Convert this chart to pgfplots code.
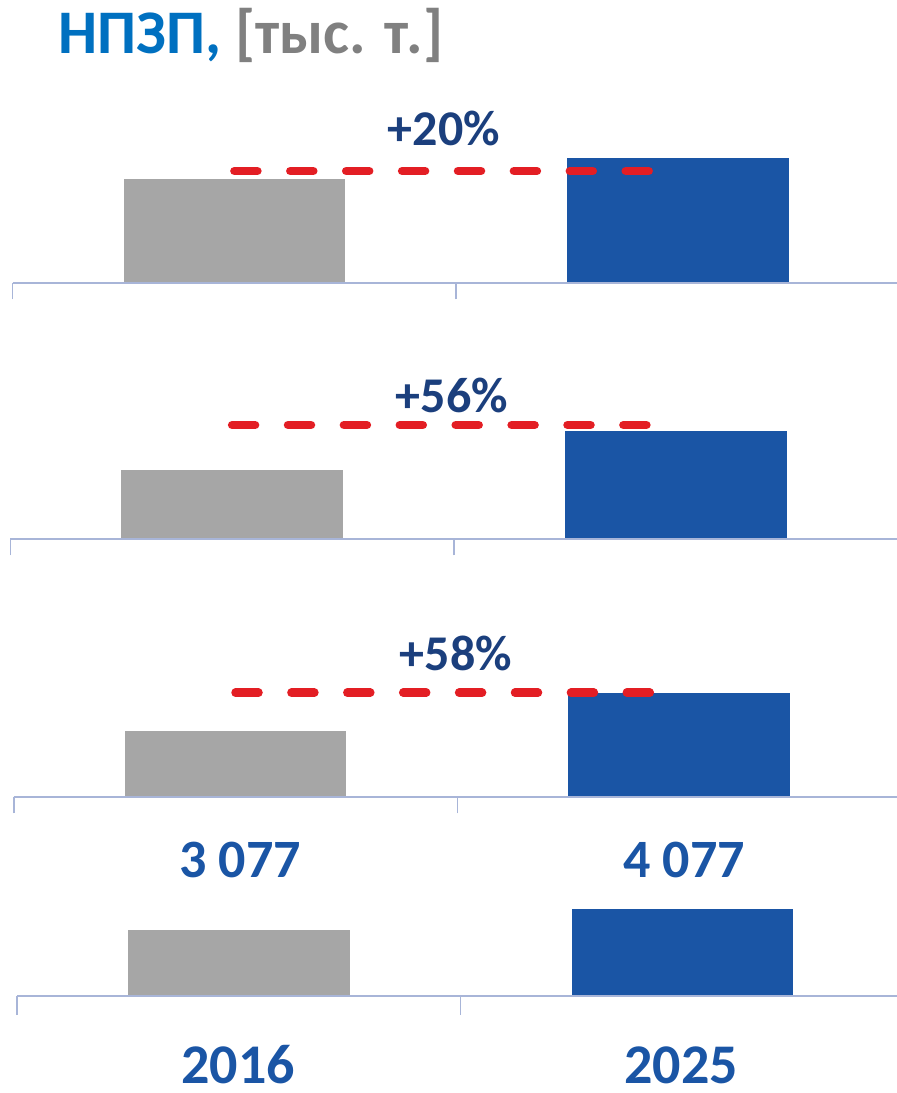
\documentclass[border=0pt]{standalone}
\usepackage{fontspec}
\setmainfont{Carlito}
\usepackage{pgfplots}
\pgfplotsset{compat=1.18}
\definecolor{bargray}{HTML}{A6A6A6}
\definecolor{barblue}{HTML}{1A55A5}
\definecolor{dashred}{HTML}{E31E24}
\definecolor{navy}{HTML}{1B3F7D}
\definecolor{titleblue}{HTML}{0070C0}
\definecolor{titlegray}{HTML}{808080}
\definecolor{axiscol}{HTML}{A8B5D8}
\pgfplotsset{panel/.style={
  x=443.6pt, y=0.021449pt, xmin=-0.5, xmax=1.5, ymin=0, ymax=8000,
  anchor=south west, clip=false, axis on top,
  axis x line*=bottom, axis y line=none,
  axis line style={axiscol, line width=1.8pt},
  xtick={-0.5,0.5,1.5}, xticklabels={}, ytick=\empty,
  tick align=outside, major tick length=16pt,
  every tick/.style={axiscol, line width=1.6pt},
},
gbar/.style={ybar, bar width=0.5, bar shift=0pt, fill=bargray, draw=none},
bbar/.style={ybar, bar width=0.5, bar shift=0pt, fill=barblue, draw=none},
rdash/.style={dashred, line width=8.5pt, line cap=round, dash pattern=on 23pt off 32.9pt},
}
\begin{document}
\begin{tikzpicture}
% title
\node[anchor=base west, inner sep=0pt, font=\fontsize{62}{70}\selectfont\bfseries] at (58pt,-53pt)
  {\textcolor{titleblue}{НПЗП,} \textcolor{titlegray}{[тыс. т.]}};

% panel 1
\begin{axis}[panel, at={(12.6pt,-283.3pt)}]
\addplot[gbar] coordinates {(0,4860)};
\addplot[bbar] coordinates {(1,5840)};
\addplot[rdash] coordinates {(0,5236) (0.936,5236)};
\end{axis}
\node[anchor=base, inner sep=0pt, text=navy, font=\fontsize{50}{60}\selectfont\bfseries] at (444pt,-145pt) {+20\%};

% panel 2
\begin{axis}[panel, at={(10.3pt,-539.3pt)}]
\addplot[gbar] coordinates {(0,3230)};
\addplot[bbar] coordinates {(1,5040)};
\addplot[rdash] coordinates {(0,5329) (0.936,5329)};
\end{axis}
\node[anchor=base, inner sep=0pt, text=navy, font=\fontsize{50}{60}\selectfont\bfseries] at (452pt,-412pt) {+56\%};

% panel 3
\begin{axis}[panel, at={(13.7pt,-797.3pt)}]
\addplot[gbar] coordinates {(0,3090)};
\addplot[bbar] coordinates {(1,4880)};
\addplot[rdash] coordinates {(0,4880) (0.936,4880)};
\end{axis}
\node[anchor=base, inner sep=0pt, text=navy, font=\fontsize{50}{60}\selectfont\bfseries] at (456pt,-670pt) {+58\%};

% panel 4
\begin{axis}[panel, at={(17pt,-996pt)}, major tick length=19pt]
\addplot[gbar] coordinates {(0,3077)};
\addplot[bbar] coordinates {(1,4077)};
\end{axis}
\node[anchor=base, inner sep=0pt, text=barblue, font=\fontsize{54}{60}\selectfont\bfseries] at (240pt,-877pt) {3 077};
\node[anchor=base, inner sep=0pt, text=barblue, font=\fontsize{54}{60}\selectfont\bfseries] at (684pt,-877pt) {4 077};
\node[anchor=base, inner sep=0pt, text=barblue, font=\fontsize{56}{64}\selectfont\bfseries] at (238pt,-1083pt) {2016};
\node[anchor=base, inner sep=0pt, text=barblue, font=\fontsize{56}{64}\selectfont\bfseries] at (681pt,-1083pt) {2025};

\pgfresetboundingbox
\path[use as bounding box] (0pt,0pt) rectangle (897pt,-1093pt);
\end{tikzpicture}
\end{document}
